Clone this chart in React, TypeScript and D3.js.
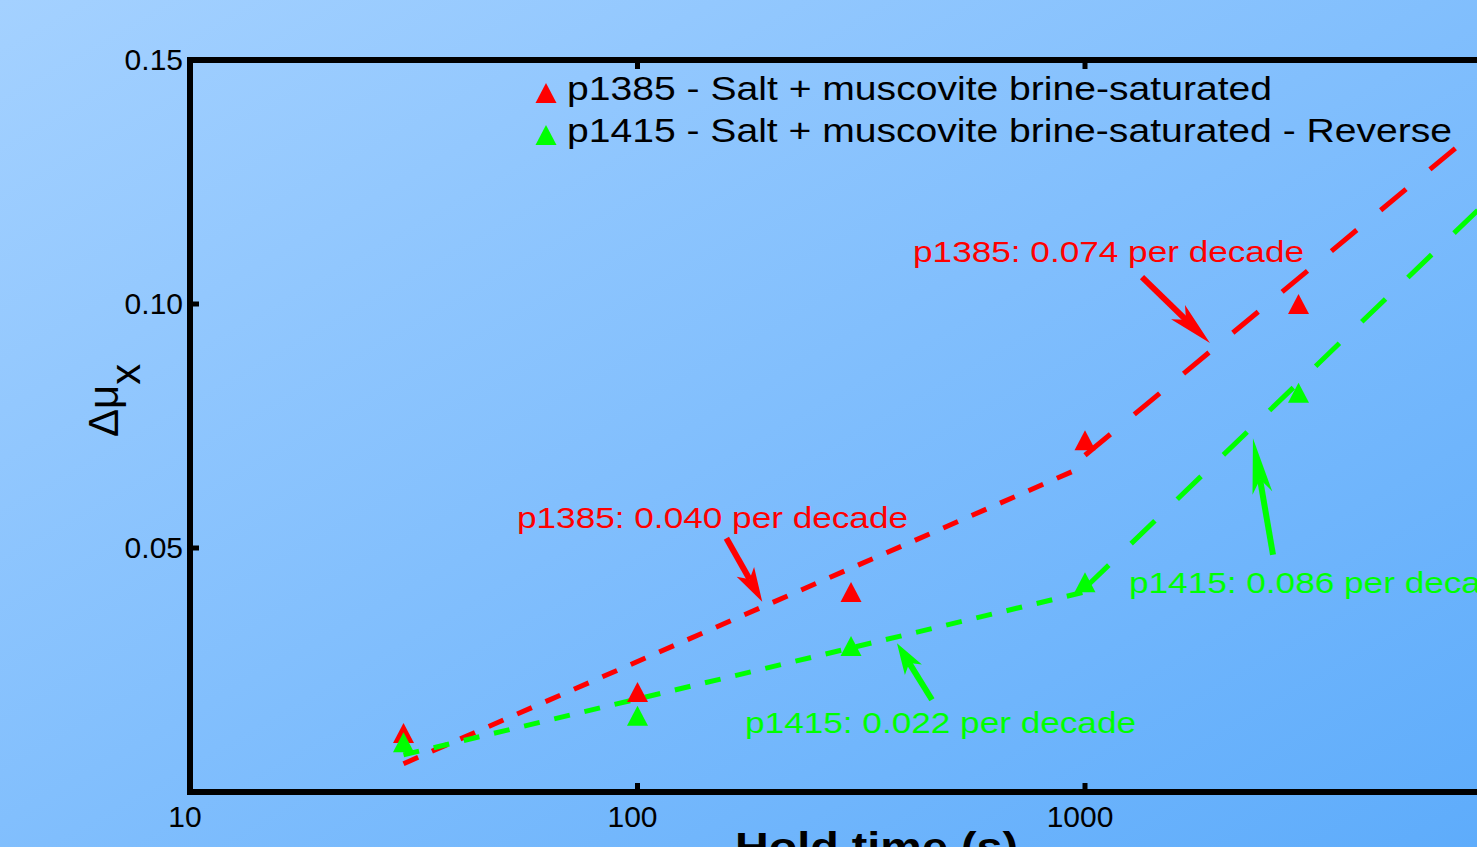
import React from 'react';
import * as d3 from 'd3';

const W = 1477;
const H = 847;

// measured data
const holdTimes = [30, 100, 300, 1000, 3000];
const p1385Values = [0.0121, 0.0205, 0.041, 0.0721, 0.1];
const p1415Values = [0.0102, 0.0156, 0.0299, 0.043, 0.0818];

// fit line end points
const fitTimesShort = [30, 1000];
const fitTimesLong = [1000, 10000];
const p1385FitShort = [0.0058, 0.0668];
const p1385FitLong = [0.069, 0.145];
const p1415FitShort = [0.0076, 0.041];
const p1415FitLong = [0.0418, 0.13];

const xTickValues = [10, 100, 1000, 10000];
const xTickLabels = ['10', '100', '1000', ''];
const yTickValues = [0.05, 0.1, 0.15];
const yTickLabels = ['0.05', '0.10', '0.15'];

const legendLabels = [
  'p1385 - Salt + muscovite brine-saturated',
  'p1415 - Salt + muscovite brine-saturated - Reverse',
];
const legendWidths = [705, 885];

const annotationTexts = [
  'p1385: 0.040 per decade',
  'p1385: 0.074 per decade',
  'p1415: 0.022 per decade',
  'p1415: 0.086 per decade',
];
const annotationColors = ['#ff0000', '#ff0000', '#00ff00', '#00ff00'];
const annotationTextT = [53.8, 412.8, 173.9, 1254];
const annotationTextV = [0.0541, 0.1086, 0.0121, 0.0408];
const arrowTailT = [158, 1341, 455, 2631];
const arrowTailV = [0.052, 0.1055, 0.0189, 0.0486];
const arrowTipT = [190, 1902, 380, 2373];
const arrowTipV = [0.039, 0.092, 0.0305, 0.0725];

const RED = '#ff0000';
const GREEN = '#00ff00';
const FONT = '"Liberation Sans", Arial, Helvetica, sans-serif';

const x = d3.scaleLog().domain([10, 10000]).range([190, 1532.5]);
const y = d3.scaleLinear().domain([0, 0.15]).range([792, 60]);

const line = d3
  .line<[number, number]>()
  .x((d) => x(d[0]))
  .y((d) => y(d[1]));

function tri(cx: number, cy: number) {
  return `M${cx},${cy - 10} L${cx - 10.5},${cy + 10} L${cx + 10.5},${cy + 10} Z`;
}

function Arrow({ x1, y1, x2, y2, color }: { x1: number; y1: number; x2: number; y2: number; color: string }) {
  const dx = x2 - x1;
  const dy = y2 - y1;
  const L = Math.hypot(dx, dy);
  const ux = dx / L;
  const uy = dy / L;
  const px = -uy;
  const py = ux;
  const hl = Math.min(0.47 * L, 58);
  const hw = 10;
  const bx = x2 - ux * hl;
  const by = y2 - uy * hl;
  const nx = x2 - ux * hl * 0.75;
  const ny = y2 - uy * hl * 0.75;
  const head = `M${x2},${y2} L${bx + px * hw},${by + py * hw} L${nx},${ny} L${bx - px * hw},${by - py * hw} Z`;
  return (
    <g>
      <line x1={x1} y1={y1} x2={nx} y2={ny} stroke={color} strokeWidth={6} />
      <path d={head} fill={color} />
    </g>
  );
}

export default function App() {
  const [x0, x1] = x.range();
  const [yb, yt] = y.range();
  return (
    <svg
      width={W}
      height={H}
      style={{ position: 'absolute', left: 0, top: 0, display: 'block' }}
      fontFamily={FONT}
    >
      <defs>
        <linearGradient id="bg" x1="0" y1="0" x2="1" y2="1">
          <stop offset="0%" stopColor="#a4d1ff" />
          <stop offset="100%" stopColor="#5eacfb" />
        </linearGradient>
        <clipPath id="plot">
          <rect x={x0} y={yt} width={x1 - x0} height={yb - yt} />
        </clipPath>
      </defs>
      <rect x={0} y={0} width={W} height={H} fill="url(#bg)" />

      <g clipPath="url(#plot)">
        <path
          d={line(fitTimesShort.map((t, i) => [t, p1385FitShort[i]] as [number, number])) || ''}
          stroke={RED}
          strokeWidth={5}
          fill="none"
          strokeDasharray="16,15"
        />
        <path
          d={line(fitTimesShort.map((t, i) => [t, p1415FitShort[i]] as [number, number])) || ''}
          stroke={GREEN}
          strokeWidth={5}
          fill="none"
          strokeDasharray="16,15"
        />
        <path
          d={line(fitTimesLong.map((t, i) => [t, p1385FitLong[i]] as [number, number])) || ''}
          stroke={RED}
          strokeWidth={5}
          fill="none"
          strokeDasharray="33,31"
        />
        <path
          d={line(fitTimesLong.map((t, i) => [t, p1415FitLong[i]] as [number, number])) || ''}
          stroke={GREEN}
          strokeWidth={5}
          fill="none"
          strokeDasharray="33,31"
        />
        {holdTimes.map((t, i) => (
          <path key={'r' + i} d={tri(x(t), y(p1385Values[i]))} fill={RED} />
        ))}
        {holdTimes.map((t, i) => (
          <path key={'g' + i} d={tri(x(t), y(p1415Values[i]))} fill={GREEN} />
        ))}
      </g>

      {/* annotations */}
      {annotationTexts.map((txt, i) => (
        <g key={'a' + i}>
          <text
            x={x(annotationTextT[i])}
            y={y(annotationTextV[i])}
            fontSize={30}
            fill={annotationColors[i]}
            textLength={391}
            lengthAdjust="spacingAndGlyphs"
          >
            {txt}
          </text>
          <Arrow
            x1={x(arrowTailT[i])}
            y1={y(arrowTailV[i])}
            x2={x(arrowTipT[i])}
            y2={y(arrowTipV[i])}
            color={annotationColors[i]}
          />
        </g>
      ))}

      {/* legend */}
      {legendLabels.map((lab, i) => (
        <g key={'l' + i}>
          <path d={tri(546, 93 + i * 42)} fill={i === 0 ? RED : GREEN} />
          <text
            x={567}
            y={100 + i * 42}
            fontSize={34}
            fill="#000"
            textLength={legendWidths[i]}
            lengthAdjust="spacingAndGlyphs"
          >
            {lab}
          </text>
        </g>
      ))}

      {/* frame */}
      <rect x={x0} y={yt} width={x1 - x0} height={yb - yt} fill="none" stroke="#000" strokeWidth={6} />

      {/* x ticks */}
      {xTickValues.map((t, i) => (
        <g key={'xt' + i}>
          <line x1={x(t)} x2={x(t)} y1={yb} y2={yb - 9} stroke="#000" strokeWidth={5} />
          <line x1={x(t)} x2={x(t)} y1={yt} y2={yt + 9} stroke="#000" strokeWidth={5} />
          {xTickLabels[i] ? (
            <text x={x(t) - 5} y={yb + 35} fontSize={30} textAnchor="middle" fill="#000">
              {xTickLabels[i]}
            </text>
          ) : null}
        </g>
      ))}

      {/* y ticks */}
      {yTickValues.map((v, i) => (
        <g key={'yt' + i}>
          <line x1={x0} x2={x0 + 9} y1={y(v)} y2={y(v)} stroke="#000" strokeWidth={5} />
          <line x1={x1} x2={x1 - 9} y1={y(v)} y2={y(v)} stroke="#000" strokeWidth={5} />
          <text x={x0 - 7} y={y(v) + 10} fontSize={30} textAnchor="end" fill="#000">
            {yTickLabels[i]}
          </text>
        </g>
      ))}

      {/* axis titles */}
      <text transform="translate(118,437) rotate(-90)" fontSize={42} fill="#000">
        <tspan>Δμ</tspan>
        <tspan dy={22}>x</tspan>
      </text>
      <text
        x={735}
        y={861}
        fontSize={40}
        fontWeight="bold"
        fill="#000"
        textLength={283}
        lengthAdjust="spacingAndGlyphs"
      >
        Hold time (s)
      </text>
    </svg>
  );
}
